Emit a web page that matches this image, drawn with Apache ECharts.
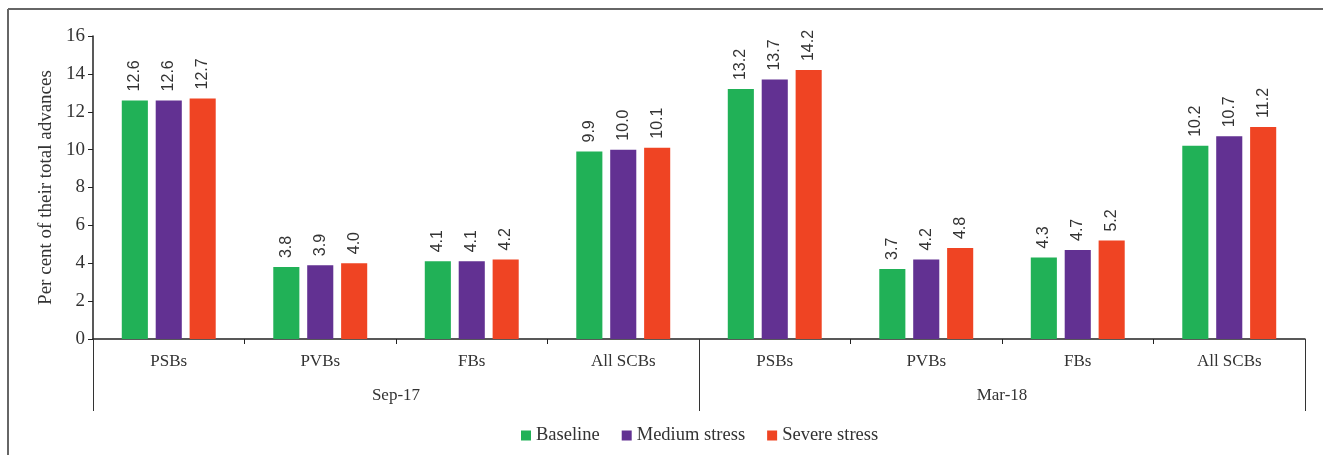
<!DOCTYPE html>
<html>
<head>
<meta charset="utf-8">
<script src="https://cdn.jsdelivr.net/npm/echarts@6/dist/echarts.min.js"></script>
<style>
  html, body { margin: 0; padding: 0; background: #fff; }
  #chart { width: 1323px; height: 455px; }
</style>
</head>
<body>
<div id="chart"></div>
<script>
// Bank groups within each period
const categories = ['PSBs', 'PVBs', 'FBs', 'All SCBs', 'PSBs', 'PVBs', 'FBs', 'All SCBs'];
const periods = ['Sep-17', 'Mar-18'];

// Per cent of total advances under each scenario
const baseline = [12.6, 3.8, 4.1, 9.9, 13.2, 3.7, 4.3, 10.2];
const mediumStress = [12.6, 3.9, 4.1, 10.0, 13.7, 4.2, 4.7, 10.7];
const severeStress = [12.7, 4.0, 4.2, 10.1, 14.2, 4.8, 5.2, 11.2];

const yTicks = { min: 0, max: 16, interval: 2 };

const serif = '"Liberation Serif", "DejaVu Serif", serif';
const sans = '"Liberation Sans", "DejaVu Sans", sans-serif';

const chart = echarts.init(document.getElementById('chart'), null, { renderer: 'canvas' });

function barSeries(name, data, color) {
  return {
    name: name,
    type: 'bar',
    xAxisIndex: 0,
    data: data,
    barGap: '30%',
    barCategoryGap: '38%',
    itemStyle: { color: color },
    label: {
      show: true,
      position: 'top',
      rotate: 90,
      align: 'left',
      verticalAlign: 'middle',
      distance: 9,
      fontFamily: sans,
      fontSize: 16,
      color: '#333',
      formatter: p => p.value.toFixed(1)
    }
  };
}

chart.setOption({
  animation: false,
  textStyle: { fontFamily: serif },
  grid: { left: 93, right: 18, top: 36, bottom: 116, containLabel: false },
  legend: {
    bottom: 5,
    left: 516,
    itemWidth: 10,
    itemHeight: 10,
    itemGap: 22,
    icon: 'rect',
    textStyle: { fontFamily: serif, fontSize: 18.5, color: '#333' },
    data: ['Baseline', 'Medium stress', 'Severe stress']
  },
  xAxis: [
    {
      type: 'category',
      data: categories,
      axisLine: { show: true, lineStyle: { color: '#222', width: 1.5 } },
      axisTick: { show: true, length: 5, lineStyle: { color: '#222' } },
      axisLabel: { margin: 14, fontFamily: serif, fontSize: 17, color: '#333' }
    },
    {
      // Period groups: long ticks divide Sep-17 from Mar-18
      type: 'category',
      data: periods,
      position: 'bottom',
      offset: 0,
      axisLine: { show: true, lineStyle: { color: 'rgba(0,0,0,0)' } },
      axisTick: { show: true, length: 72, lineStyle: { color: '#333', width: 1 } },
      axisLabel: { show: true, margin: 48, fontFamily: serif, fontSize: 17, color: '#333' }
    }
  ],
  yAxis: {
    type: 'value',
    min: yTicks.min,
    max: yTicks.max,
    interval: yTicks.interval,
    name: 'Per cent of their total advances',
    nameLocation: 'middle',
    nameGap: 35,
    nameTextStyle: { fontFamily: serif, fontSize: 19, color: '#333' },
    axisLine: { show: true, lineStyle: { color: '#222', width: 1.5 } },
    axisTick: { show: true, length: 5, lineStyle: { color: '#222' } },
    axisLabel: { margin: 8, fontFamily: serif, fontSize: 19, color: '#333' },
    splitLine: { show: false }
  },
  series: [
    barSeries('Baseline', baseline, '#21B157'),
    barSeries('Medium stress', mediumStress, '#623192'),
    barSeries('Severe stress', severeStress, '#EF4423')
  ],
  graphic: [
    { type: 'line', shape: { x1: 8, y1: 9, x2: 1323, y2: 9 }, style: { stroke: '#666', lineWidth: 2 } },
    { type: 'line', shape: { x1: 8, y1: 9, x2: 8, y2: 455 }, style: { stroke: '#666', lineWidth: 2 } }
  ]
});
</script>
</body>
</html>
